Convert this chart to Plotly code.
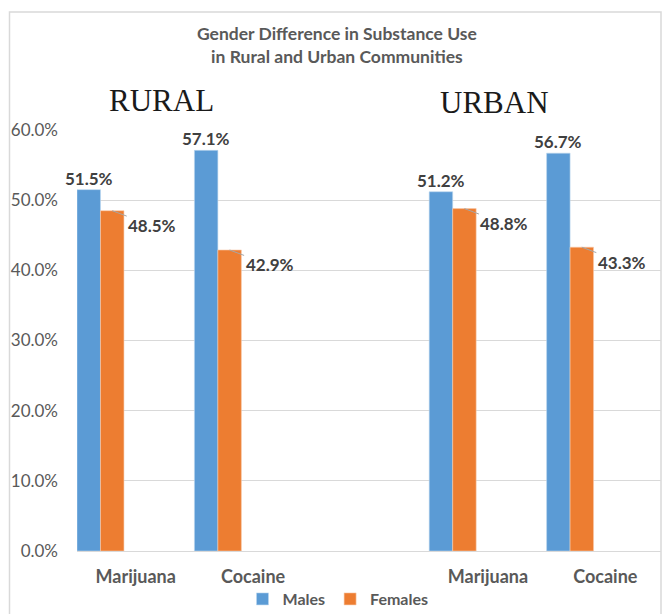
import plotly.graph_objects as go

# ---- data ----
categories = ["Marijuana", "Cocaine", "", "Marijuana", "Cocaine"]
bar_idx = [0, 1, 3, 4]
males = [0.515, 0.571, 0.512, 0.567]
females = [0.485, 0.429, 0.488, 0.433]
y_ticks = [0, 0.1, 0.2, 0.3, 0.4, 0.5, 0.6]

W, H = 666, 614
L, R, T, B = 77, 5, 130, 63
pw = W - L - R
ph = H - T - B

def px_to_paper_x(px):
    return (px - L) / pw

def px_to_paper_y(py):
    return (H - B - py) / ph

FONT = "Lato, 'Open Sans', sans-serif"
GRAY = "#595959"
LBL = "#404040"
BLUE = "#5B9BD5"
ORANGE = "#ED7D31"

fig = go.Figure()
fig.add_trace(go.Bar(x=bar_idx, y=males, name="Males", width=0.2, offset=-0.5,
                     marker=dict(color=BLUE, line=dict(color="#BDD7EE", width=0.6))))
fig.add_trace(go.Bar(x=bar_idx, y=females, name="Females", width=0.2, offset=-0.3,
                     marker=dict(color=ORANGE, line=dict(color="#F8CBAD", width=0.6))))

ann = []
for i, v in zip(bar_idx, males):
    ann.append(dict(x=i - 0.4, y=v, xref="x", yref="y", text=f"{v*100:.1f}%",
                    showarrow=False, yanchor="bottom", yshift=-1,
                    font=dict(family=FONT, size=17, color=LBL, weight="bold")))
for i, v in zip(bar_idx, females):
    ann.append(dict(x=i - 0.2, y=v, xref="x", yref="y", text=f"{v*100:.1f}%",
                    showarrow=True, arrowhead=0, arrowwidth=1, arrowcolor="#a6a6a6",
                    standoff=0, ax=40, ay=15, xanchor="center", yanchor="middle",
                    font=dict(family=FONT, size=17, color=LBL, weight="bold")))

ann.append(dict(x=px_to_paper_x(161), y=px_to_paper_y(100), xref="paper", yref="paper",
                text="RURAL", showarrow=False, xanchor="center", yanchor="middle",
                font=dict(family="'Liberation Serif', 'DejaVu Serif', serif", size=31, color="#1a1a1a")))
ann.append(dict(x=px_to_paper_x(494), y=px_to_paper_y(102), xref="paper", yref="paper",
                text="URBAN", showarrow=False, xanchor="center", yanchor="middle",
                font=dict(family="'Liberation Serif', 'DejaVu Serif', serif", size=31, color="#1a1a1a")))
ann.append(dict(x=px_to_paper_x(337), y=px_to_paper_y(44.5), xref="paper", yref="paper",
                text="Gender Difference in Substance Use<br>in Rural and Urban Communities",
                showarrow=False, xanchor="center", yanchor="middle",
                font=dict(family=FONT, size=17.5, color=GRAY, weight="bold")))

fig.update_layout(
    width=W, height=H,
    margin=dict(l=L, r=R, t=T, b=B, autoexpand=False),
    paper_bgcolor="white", plot_bgcolor="white",
    barmode="overlay",
    showlegend=True,
    legend=dict(orientation="h", x=338 / W, xref="container", xanchor="center",
                y=1 - 599 / H, yref="container", yanchor="middle",
                bgcolor="rgba(0,0,0,0)",
                font=dict(family=FONT, size=16, color=GRAY, weight="bold"),
                itemwidth=30, traceorder="normal"),
    annotations=ann,
    xaxis=dict(range=[-0.5, -0.5 + pw / 117.4], tickvals=list(range(len(categories))),
               ticktext=categories, showgrid=False, zeroline=False, showline=False,
               ticks="", ticklabelstandoff=13,
               tickfont=dict(family=FONT, size=18, color=GRAY, weight="bold")),
    yaxis=dict(range=[0, 0.6], tickvals=y_ticks, tickformat=".1%",
               showgrid=True, gridcolor="#d9d9d9", gridwidth=1,
               zeroline=True, zerolinecolor="#d9d9d9", zerolinewidth=1,
               showline=False, ticks="", ticklabelstandoff=18,
               tickfont=dict(family=FONT, size=17, color=GRAY)),
    shapes=[dict(type="rect", xref="paper", yref="paper",
                 x0=px_to_paper_x(9.5), x1=px_to_paper_x(661),
                 y0=px_to_paper_y(625), y1=px_to_paper_y(12),
                 line=dict(color="#d9d9d9", width=1.5), fillcolor="rgba(0,0,0,0)",
                 layer="below")],
)

fig.write_html("out.html")
